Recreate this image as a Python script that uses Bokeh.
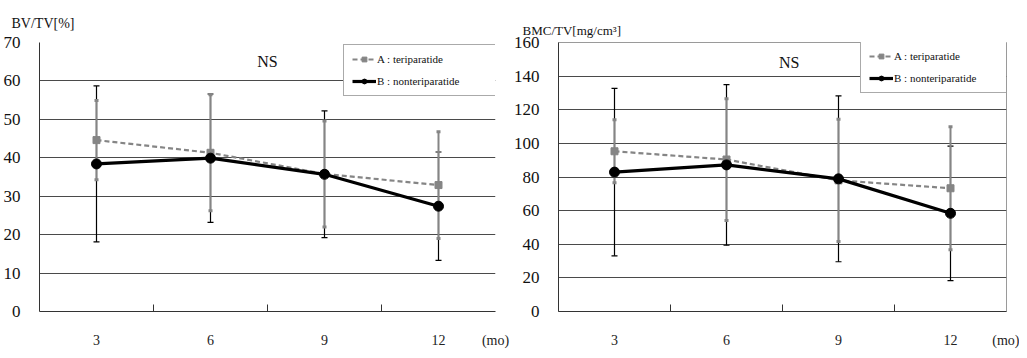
from bokeh.plotting import figure
from bokeh.models import (ColumnDataSource, Whisker, TeeHead, Range1d, FixedTicker,
                          Label)
from bokeh.layouts import row
from bokeh.embed import file_html
from bokeh.resources import INLINE

months = ["3", "6", "9", "12"]
unit_label = "(mo)"

bvtv_A_mean = [44.6, 41.3, 35.8, 32.9]
bvtv_A_sd = [10.3, 15.1, 13.8, 13.9]
bvtv_B_mean = [38.4, 39.9, 35.7, 27.4]
bvtv_B_sd = [20.3, 16.7, 16.5, 14.1]

bmc_A_mean = [95.3, 90.4, 78.0, 73.3]
bmc_A_sd = [18.7, 36.2, 36.3, 36.6]
bmc_B_mean = [82.9, 87.2, 78.9, 58.4]
bmc_B_sd = [49.8, 47.8, 49.3, 40.0]

label_A = "A : teriparatide"
label_B = "B : nonteriparatide"

SERIF = "Liberation Serif"
GRAY = "#858585"
H = 350


def make_chart(width, border_left, border_right, ymax, ystep, ylabel, title_off,
               title_standoff, title_size, a_mean, a_sd, b_mean, b_sd, ns_pos,
               legend_pos, outline, mo_x):
    n = len(months)
    xs = [i + 0.5 for i in range(n)]
    p = figure(width=width, height=H, output_backend="svg", toolbar_location=None,
               x_range=Range1d(0, n), y_range=Range1d(0, ymax),
               min_border_left=border_left, min_border_right=border_right,
               min_border_top=42, min_border_bottom=38)
    p.outline_line_color = outline
    p.background_fill_color = "white"
    p.border_fill_color = "white"

    p.title.text = ylabel
    p.title.align = "left"
    p.title.offset = title_off
    p.title.standoff = title_standoff
    p.title.text_font = SERIF
    p.title.text_font_size = title_size
    p.title.text_font_style = "normal"
    p.title.text_color = "#111111"

    # axes
    p.xaxis.ticker = FixedTicker(ticks=xs + [mo_x], minor_ticks=list(range(1, n)))
    overrides = {x: m for x, m in zip(xs, months)}
    overrides[mo_x] = unit_label
    p.xaxis.major_label_overrides = overrides
    p.xaxis.major_tick_line_color = None
    p.xaxis.minor_tick_in = 7
    p.xaxis.minor_tick_out = 0
    p.xaxis.minor_tick_line_color = "#333333"
    p.xaxis.axis_line_color = "#333333"
    p.xaxis.major_label_standoff = 15
    p.xaxis.major_label_text_font = SERIF
    p.xaxis.major_label_text_font_size = "14px"
    p.xaxis.major_label_text_color = "#222222"

    p.yaxis.ticker = FixedTicker(ticks=list(range(0, ymax + 1, ystep)))
    p.yaxis.major_tick_line_color = None
    p.yaxis.minor_tick_line_color = None
    p.yaxis.axis_line_color = "#333333"
    p.yaxis.major_label_standoff = 13
    p.yaxis.major_label_text_font = SERIF
    p.yaxis.major_label_text_font_size = "17px"
    p.yaxis.major_label_text_color = "#111111"

    p.xgrid.grid_line_color = None
    p.ygrid.ticker = FixedTicker(ticks=list(range(0, ymax + 1, ystep)))
    p.ygrid.grid_line_color = "#4a4a4a"
    p.ygrid.grid_line_width = 1

    srcA = ColumnDataSource(dict(x=xs, y=a_mean,
                                 upper=[m + s for m, s in zip(a_mean, a_sd)],
                                 lower=[m - s for m, s in zip(a_mean, a_sd)]))
    srcB = ColumnDataSource(dict(x=xs, y=b_mean,
                                 upper=[m + s for m, s in zip(b_mean, b_sd)],
                                 lower=[m - s for m, s in zip(b_mean, b_sd)]))

    wB = Whisker(source=srcB, base="x", upper="upper", lower="lower",
                 line_color="black", line_width=1.2,
                 upper_head=TeeHead(size=6, line_color="black", line_width=1.2),
                 lower_head=TeeHead(size=6, line_color="black", line_width=1.2))
    wA = Whisker(source=srcA, base="x", upper="upper", lower="lower",
                 line_color=GRAY, line_width=2,
                 upper_head=TeeHead(size=4, line_color=GRAY, line_width=3),
                 lower_head=TeeHead(size=4, line_color=GRAY, line_width=3))
    p.add_layout(wB)
    p.add_layout(wA)

    p.line("x", "y", source=srcA, line_color=GRAY, line_width=2.2, line_dash="5 3",
           legend_label=label_A)
    p.scatter("x", "y", source=srcA, marker="square", size=7, fill_color=GRAY,
              line_color=GRAY, legend_label=label_A)
    p.line("x", "y", source=srcB, line_color="black", line_width=3.2,
           legend_label=label_B)
    p.scatter("x", "y", source=srcB, marker="circle", size=10, fill_color="black",
              line_color="black", legend_label=label_B)

    leg = p.legend[0]
    leg.location = legend_pos
    leg.label_text_font = SERIF
    leg.label_text_font_size = "11px"
    leg.label_text_color = "#111111"
    leg.border_line_color = "#555555"
    leg.border_line_width = 1
    leg.background_fill_color = "white"
    leg.background_fill_alpha = 1
    leg.padding = 8
    leg.spacing = 10
    leg.glyph_width = 24
    leg.glyph_height = 12
    leg.label_height = 12
    leg.label_standoff = 1
    leg.label_width = 110
    leg.margin = 0

    p.add_layout(Label(x=ns_pos[0], y=ns_pos[1], text="NS", text_font=SERIF,
                       text_font_size="16px", text_align="center",
                       text_baseline="middle", text_color="#111111"))
    return p


p1 = make_chart(510, 32, 15, 70, 10, "BV/TV[%]", -28, 24, "14px",
                bvtv_A_mean, bvtv_A_sd, bvtv_B_mean, bvtv_B_sd,
                (2.0, 65), (304, 215), None, 4.0)
p2 = make_chart(509, 40, 13, 160, 20, "BMC/TV[mg/cm³]", -36, 10, "13px",
                bmc_A_mean, bmc_A_sd, bmc_B_mean, bmc_B_sd,
                (2.06, 148), (302, 218), "#9a9a9a", 4.0)

layout = row(p1, p2)
open("out.html", "w").write(file_html(layout, INLINE))
